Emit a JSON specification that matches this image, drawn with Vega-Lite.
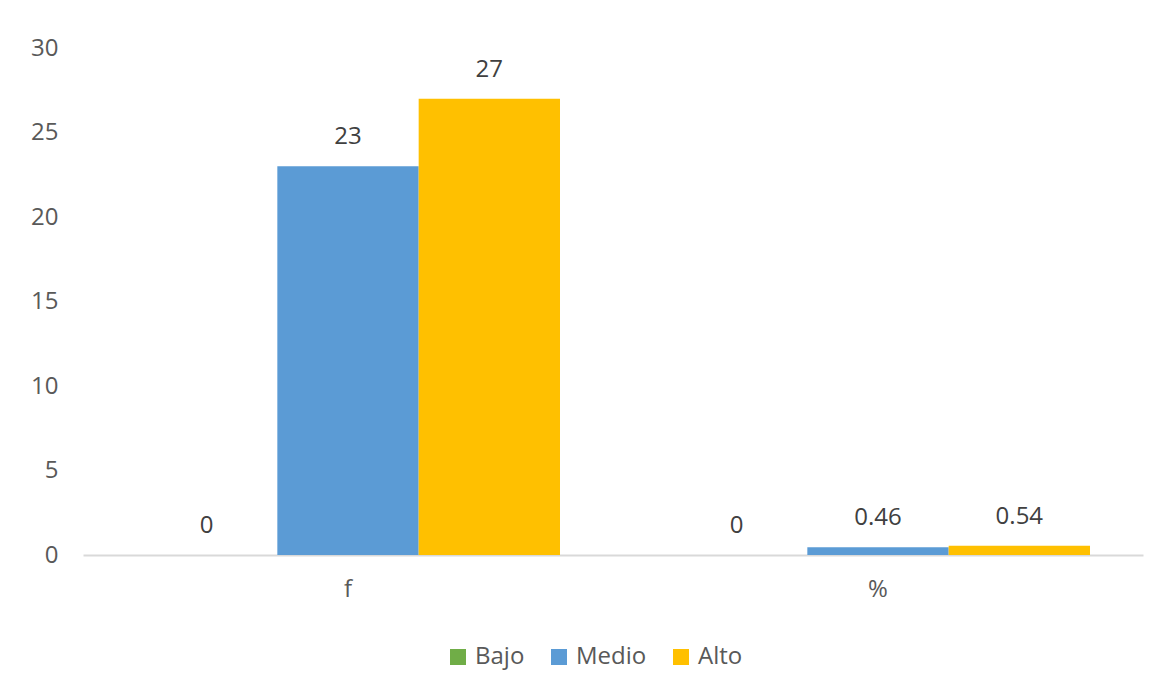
{
  "$schema": "https://vega.github.io/schema/vega-lite/v6.json",
  "width": 1060,
  "height": 507,
  "autosize": {"type": "none"},
  "padding": {"left": 83, "top": 48, "right": 21, "bottom": 140},
  "background": "white",
  "config": {
    "view": {"stroke": null},
    "font": "Open Sans"
  },
  "data": {
    "values": [
      {"cat": "f", "nivel": "Bajo", "valor": 0},
      {"cat": "f", "nivel": "Medio", "valor": 23},
      {"cat": "f", "nivel": "Alto", "valor": 27},
      {"cat": "%", "nivel": "Bajo", "valor": 0},
      {"cat": "%", "nivel": "Medio", "valor": 0.46},
      {"cat": "%", "nivel": "Alto", "valor": 0.54}
    ]
  },
  "encoding": {
    "x": {
      "field": "cat",
      "type": "nominal",
      "sort": ["f", "%"],
      "scale": {"paddingInner": 0, "paddingOuter": 0},
      "axis": {
        "title": null,
        "labelAngle": 0,
        "ticks": false,
        "domainColor": "#D9D9D9",
        "domainWidth": 2,
        "labelFontSize": 24,
        "labelColor": "#595959",
        "labelPadding": 22,
        "labelFont": "Open Sans"
      }
    },
    "xOffset": {
      "field": "nivel",
      "type": "nominal",
      "sort": ["Bajo", "Medio", "Alto"],
      "scale": {"paddingInner": 0, "paddingOuter": 0.375}
    },
    "y": {
      "field": "valor",
      "type": "quantitative",
      "scale": {"domain": [0, 30], "nice": false},
      "axis": {
        "title": null,
        "values": [0, 5, 10, 15, 20, 25, 30],
        "grid": false,
        "domain": false,
        "ticks": false,
        "labelFontSize": 24,
        "labelColor": "#595959",
        "labelPadding": 25,
        "labelFont": "Open Sans"
      }
    }
  },
  "layer": [
    {
      "mark": {"type": "bar"},
      "encoding": {
        "color": {
          "field": "nivel",
          "type": "nominal",
          "sort": ["Bajo", "Medio", "Alto"],
          "scale": {"domain": ["Bajo", "Medio", "Alto"], "range": ["#70AD47", "#5B9BD5", "#FFC000"]},
          "legend": {
            "title": null,
            "orient": "none",
            "legendX": 363,
            "legendY": 597,
            "direction": "horizontal",
            "symbolType": "square",
            "symbolSize": 256,
            "symbolStrokeWidth": 0,
            "labelFontSize": 24,
            "labelColor": "#595959",
            "labelFont": "Open Sans",
            "labelOffset": 5,
            "columnPadding": 22
          }
        }
      }
    },
    {
      "mark": {"type": "text", "baseline": "alphabetic", "dy": -22, "fontSize": 24, "color": "#404040", "font": "Open Sans"},
      "encoding": {
        "text": {"field": "valor", "type": "quantitative"}
      }
    }
  ]
}
